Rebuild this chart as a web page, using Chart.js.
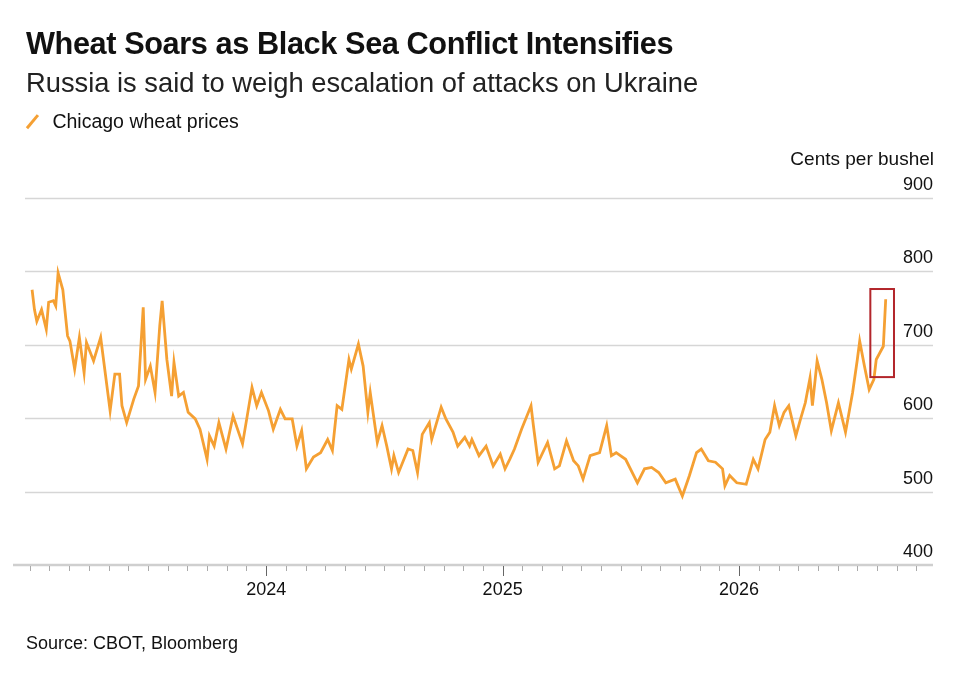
<!DOCTYPE html>
<html>
<head>
<meta charset="utf-8">
<script src="https://cdn.jsdelivr.net/npm/chart.js@4/dist/chart.umd.min.js"></script>
<style>
  html, body { margin: 0; padding: 0; background: #fff; }
  #wrap { position: relative; width: 974px; height: 678px; font-family: "Liberation Sans", Arial, sans-serif; color: #111; }
  canvas { position: absolute; left: 0; top: 0; }
  .t { position: absolute; white-space: nowrap; }
</style>
</head>
<body>
<div id="wrap">
  <canvas id="wheatChart" width="974" height="678"></canvas>
  <div class="t" style="left:26px;top:26px;font-size:30.7px;font-weight:bold;letter-spacing:-0.4px;">Wheat Soars as Black Sea Conflict Intensifies</div>
  <div class="t" style="left:26px;top:67px;font-size:27.3px;color:#222;">Russia is said to weigh escalation of attacks on Ukraine</div>
  <div class="t" style="left:26px;top:110px;font-size:19.5px;">
    <span style="display:inline-block;width:12px;height:18px;vertical-align:-3px;position:relative;">
      <span style="position:absolute;left:5px;top:0;width:2.5px;height:17px;background:#f5a033;transform:rotate(40deg);"></span>
    </span>
    <span style="margin-left:9px;">Chicago wheat prices</span>
  </div>
  <div class="t" style="right:40px;top:148px;font-size:19px;">Cents per bushel</div>
  <div class="t" style="left:26px;top:633px;font-size:18px;">Source: CBOT, Bloomberg</div>
</div>
<script>
// Decimal-year dates and Chicago wheat prices (cents per bushel)
const dates = [
  2023.01, 2023.02, 2023.03, 2023.05, 2023.07, 2023.08, 2023.10, 2023.11, 2023.12, 2023.14,
  2023.16, 2023.17, 2023.19, 2023.21, 2023.23, 2023.24, 2023.27, 2023.30, 2023.34, 2023.36,
  2023.38, 2023.39, 2023.41, 2023.44, 2023.46, 2023.48, 2023.49, 2023.51, 2023.53, 2023.55,
  2023.56, 2023.58, 2023.60, 2023.61, 2023.63, 2023.65, 2023.67, 2023.70, 2023.72, 2023.75,
  2023.76, 2023.78, 2023.80, 2023.83, 2023.86, 2023.90, 2023.94, 2023.96, 2023.98, 2024.01,
  2024.03, 2024.06, 2024.08, 2024.11, 2024.13, 2024.15, 2024.17, 2024.20, 2024.23, 2024.26,
  2024.28, 2024.30, 2024.32, 2024.35, 2024.36, 2024.39, 2024.41, 2024.43, 2024.44, 2024.47,
  2024.49, 2024.51, 2024.53, 2024.54, 2024.56, 2024.60, 2024.62, 2024.64, 2024.66, 2024.69,
  2024.70, 2024.74, 2024.76, 2024.79, 2024.81, 2024.84, 2024.86, 2024.87, 2024.90, 2024.93,
  2024.96, 2024.99, 2025.01, 2025.03, 2025.05, 2025.08, 2025.12, 2025.13, 2025.15, 2025.19,
  2025.22, 2025.24, 2025.27, 2025.30, 2025.32, 2025.34, 2025.37, 2025.41, 2025.44, 2025.46,
  2025.48, 2025.52, 2025.57, 2025.60, 2025.63, 2025.66, 2025.69, 2025.73, 2025.76, 2025.79,
  2025.82, 2025.84, 2025.87, 2025.90, 2025.93, 2025.94, 2025.96, 2025.99, 2026.03, 2026.06,
  2026.08, 2026.11, 2026.13, 2026.15, 2026.17, 2026.19, 2026.21, 2026.24, 2026.26, 2026.28,
  2026.30, 2026.31, 2026.33, 2026.35, 2026.37, 2026.39, 2026.42, 2026.45, 2026.48, 2026.50,
  2026.51, 2026.53, 2026.55, 2026.57, 2026.58, 2026.61, 2026.62
];
const prices = [
  775, 748, 732, 748, 721, 758, 760, 753, 798, 775,
  712, 705, 667, 710, 662, 703, 678, 710, 610, 660,
  660, 617, 594, 626, 644, 751, 653, 671, 635, 726,
  760, 680, 630, 676, 630, 635, 608, 599, 585, 544,
  576, 562, 594, 558, 603, 565, 642, 617, 635, 610,
  585, 612, 599, 599, 562, 583, 531, 547, 553, 571,
  556, 617, 612, 680, 667, 701, 671, 608, 635, 567,
  590, 562, 531, 549, 526, 558, 556, 526, 578, 594,
  571, 615, 599, 581, 562, 574, 562, 571, 549, 562,
  535, 551, 531, 544, 558, 585, 617, 590, 540, 567,
  531, 535, 569, 542, 535, 517, 549, 553, 590, 549,
  553, 544, 512, 531, 533, 526, 512, 517, 494, 522,
  553, 558, 542, 540, 531, 508, 522, 512, 510, 544,
  531, 571, 581, 617, 590, 608, 617, 576, 599, 621,
  655, 617, 678, 653, 621, 583, 621, 581, 635, 680,
  705, 671, 639, 653, 680, 698, 762
];
const yTicks = [400, 500, 600, 700, 800, 900];
const yearTicks = [2024, 2025, 2026];
const xRange = [2022.98, 2026.82];
// Highlight box around the latest spike: [x0, x1, yLow, yHigh]
const highlight = [2026.555, 2026.655, 656, 776];

const lineColor = '#f5a033';

const overlay = {
  id: 'bbgOverlay',
  beforeDatasetsDraw(chart) {
    const { ctx, chartArea: a, scales: { y } } = chart;
    ctx.save();
    // horizontal gridlines
    ctx.strokeStyle = '#d6d6d6';
    ctx.lineWidth = 1.5;
    yTicks.forEach(v => {
      if (v === 400) return;
      const py = Math.round(y.getPixelForValue(v)) + 0.5;
      ctx.beginPath(); ctx.moveTo(a.left, py); ctx.lineTo(a.right, py); ctx.stroke();
    });
    ctx.restore();
  },
  afterDatasetsDraw(chart) {
    const { ctx, chartArea: a, scales: { x, y } } = chart;
    ctx.save();
    // y labels sitting above gridlines
    ctx.fillStyle = '#111';
    ctx.font = '18px "Liberation Sans", Arial, sans-serif';
    ctx.textAlign = 'right';
    ctx.textBaseline = 'alphabetic';
    yTicks.forEach(v => {
      ctx.fillText(String(v), a.right, y.getPixelForValue(v) - 8);
    });
    // bottom axis line
    const base = y.getPixelForValue(400);
    ctx.strokeStyle = '#cfcfcf';
    ctx.lineWidth = 2.5;
    ctx.beginPath(); ctx.moveTo(a.left - 12, base); ctx.lineTo(a.right, base); ctx.stroke();
    // monthly ticks
    ctx.lineWidth = 1;
    for (let yr = 2023; yr <= 2026; yr++) {
      for (let m = 0; m < 12; m++) {
        const v = yr + m / 12;
        if (v < xRange[0] || v > xRange[1] - 0.05) continue;
        const px = Math.round(x.getPixelForValue(v)) + 0.5;
        const major = yearTicks.includes(v);
        ctx.strokeStyle = major ? '#666' : '#aaa';
        ctx.beginPath(); ctx.moveTo(px, base + 1); ctx.lineTo(px, base + (major ? 11 : 6)); ctx.stroke();
      }
    }
    // year labels
    ctx.fillStyle = '#111';
    ctx.font = '18px "Liberation Sans", Arial, sans-serif';
    ctx.textAlign = 'center';
    yearTicks.forEach(v => ctx.fillText(String(v), x.getPixelForValue(v), base + 30));
    // red highlight box
    ctx.strokeStyle = '#b3262b';
    ctx.lineWidth = 2;
    const x0 = x.getPixelForValue(highlight[0]), x1 = x.getPixelForValue(highlight[1]);
    const y0 = y.getPixelForValue(highlight[3]), y1 = y.getPixelForValue(highlight[2]);
    ctx.strokeRect(x0, y0, x1 - x0, y1 - y0);
    ctx.restore();
  }
};

new Chart(document.getElementById('wheatChart'), {
  type: 'line',
  data: {
    datasets: [{
      label: 'Chicago wheat prices',
      data: dates.map((d, i) => ({ x: d, y: prices[i] })),
      borderColor: lineColor,
      borderWidth: 2.8,
      pointRadius: 0,
      tension: 0,
      fill: false
    }]
  },
  options: {
    responsive: false,
    animation: false,
    devicePixelRatio: 1,
    layout: { padding: { left: 25, right: 41, top: 198, bottom: 113 } },
    plugins: { legend: { display: false }, tooltip: { enabled: false } },
    scales: {
      x: { type: 'linear', min: xRange[0], max: xRange[1], display: false },
      y: { min: 400, max: 900, display: false }
    }
  },
  plugins: [overlay]
});
</script>
</body>
</html>
